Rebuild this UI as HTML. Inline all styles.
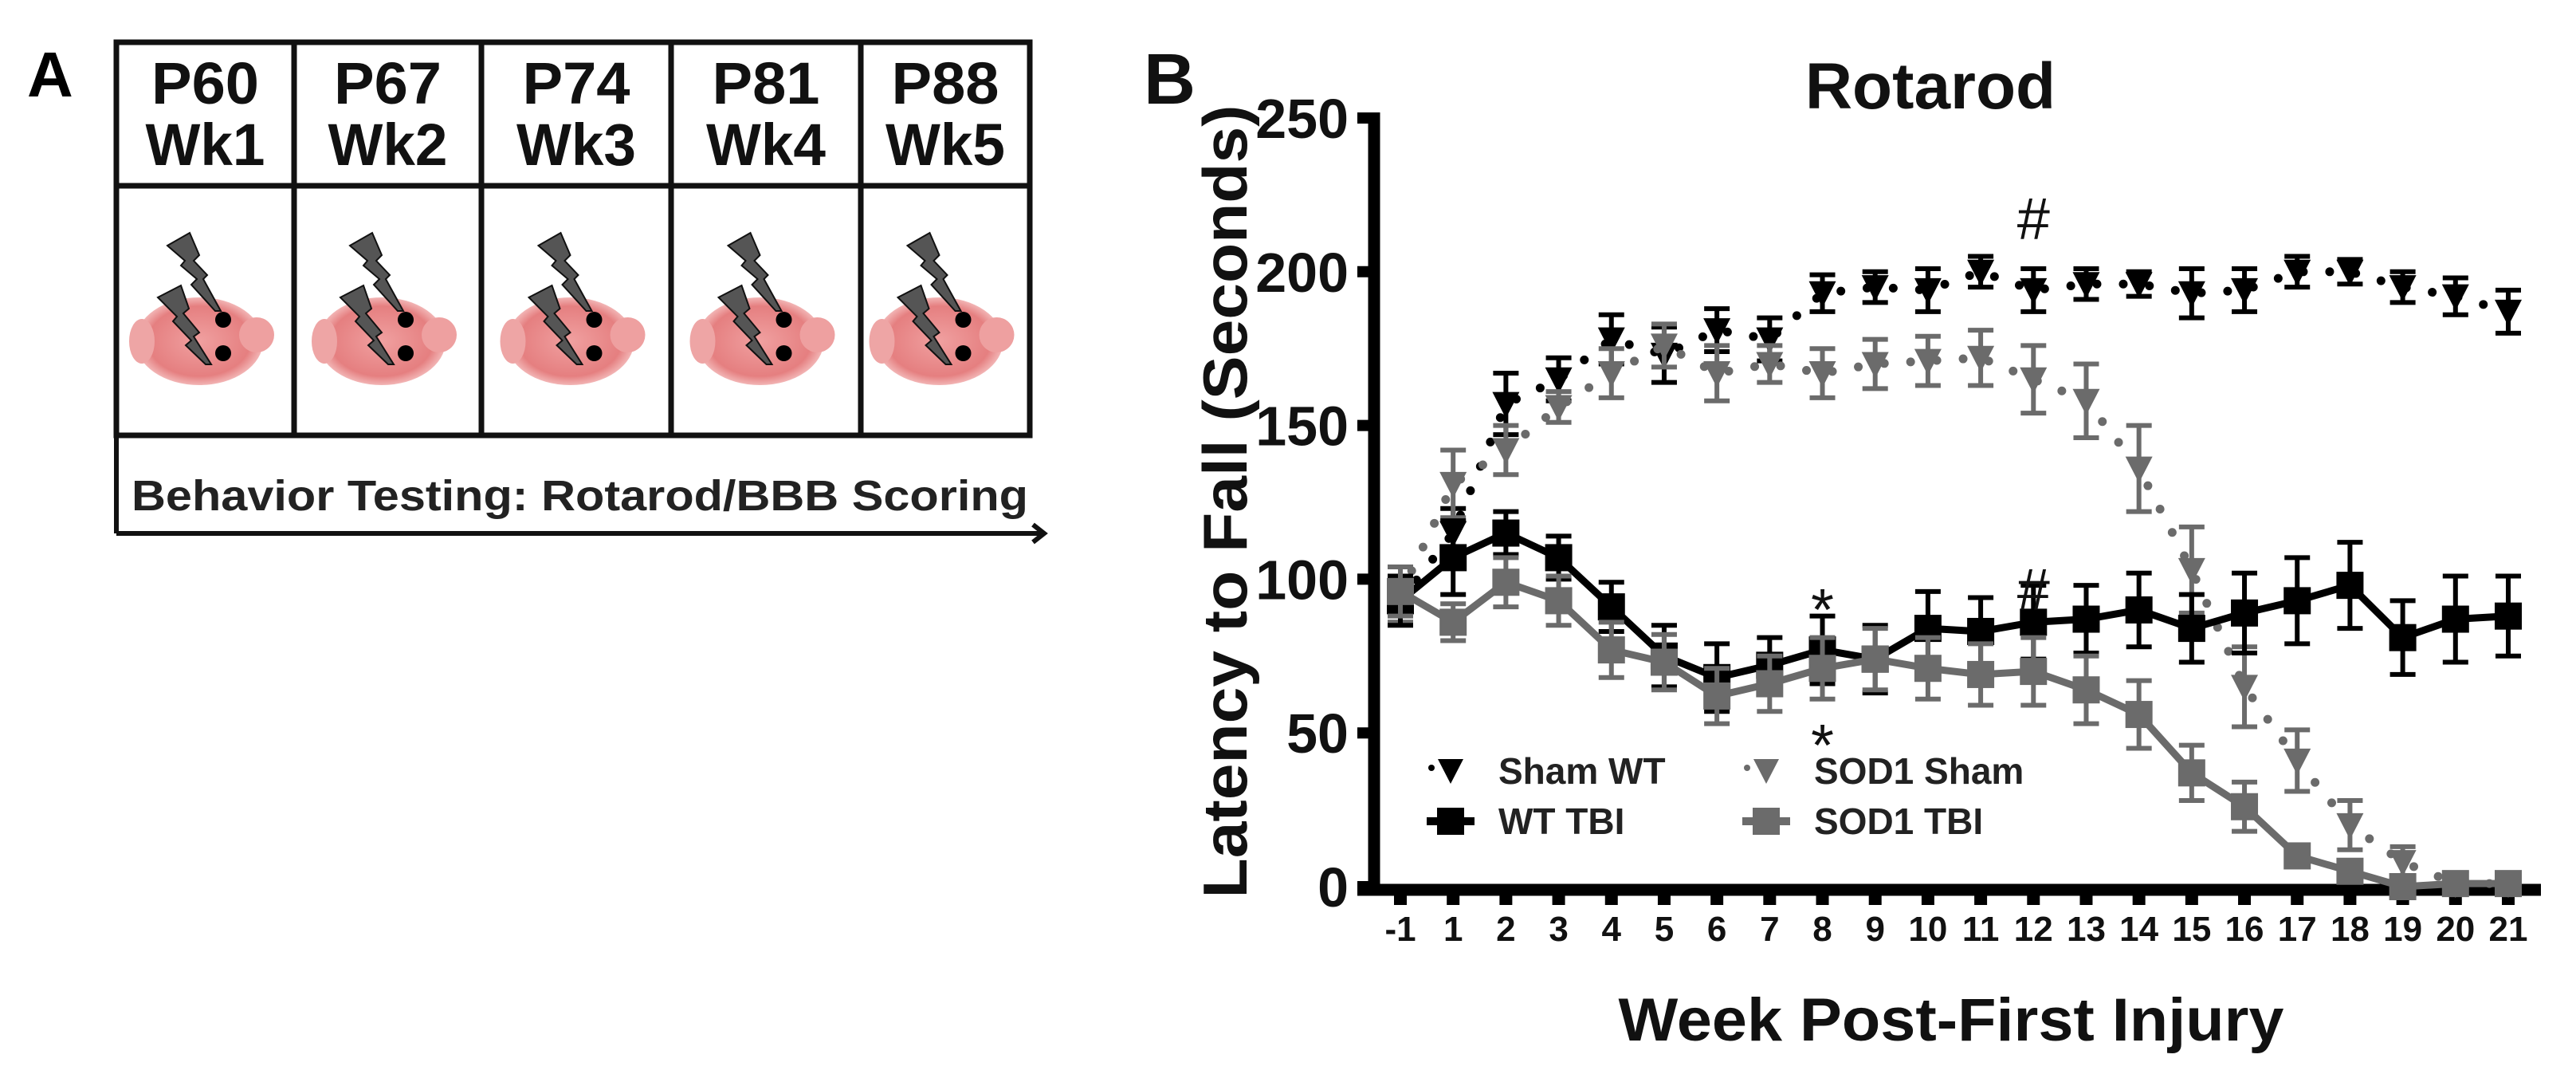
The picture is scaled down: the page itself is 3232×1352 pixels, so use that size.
<!DOCTYPE html>
<html><head><meta charset="utf-8"><style>
html,body{margin:0;padding:0;background:#fff;}
svg{display:block;font-family:"Liberation Sans",Arial,sans-serif;font-weight:bold;}
</style></head><body>
<svg id="fig" width="3232" height="1352" viewBox="0 0 3232 1352" xmlns="http://www.w3.org/2000/svg">
<defs>
<radialGradient id="brainGrad" cx="0.5" cy="0.5" r="0.5">
<stop offset="0" stop-color="#f0a0a0"/><stop offset="0.8" stop-color="#e57f80"/><stop offset="1" stop-color="#f2b5b5"/>
</radialGradient>
</defs>
<g id="panelA">
<text x="34" y="121" font-size="80">A</text>
<rect x="146" y="53" width="1146" height="493" fill="none" stroke="#111" stroke-width="7"/>
<line x1="146" y1="233" x2="1292" y2="233" stroke="#111" stroke-width="7"/>
<line x1="146" y1="546" x2="146" y2="669" stroke="#111" stroke-width="6"/>
<line x1="146" y1="669" x2="1306" y2="669" stroke="#111" stroke-width="6"/>
<polyline points="1296,658 1310,669 1296,680" fill="none" stroke="#111" stroke-width="6"/>
<text x="165" y="640" font-size="54" textLength="1125" lengthAdjust="spacingAndGlyphs" fill="#222">Behavior Testing: Rotarod/BBB Scoring</text>
</g>
<g id="chart"></g>
</svg>
<script>
const weeks = ["-1","1","2","3","4","5","6","7","8","9","10","11","12","13","14","15","16","17","18","19","20","21"];
const shamWT = [93,115,157,165,178,173,181,178,193,195,194,200,194,196,196,193,194,200,200,195,192,187];
const shamWTErr = [7,8,10,7,8,9,7,7,6,5,7,5,7,5,4,8,7,5,4,5,6,7];
const sod1Sham = [95,131,142,156,167,176,167,170,167,170,171,172,165,158,136,103,65,41,20,8,1,1];
const sod1ShamErr = [9,11,8,5,8,7,9,6,8,8,8,9,11,12,14,14,13,10,8,5,1,1];
const wtTBI = [93,107,115,107,91,75,68,72,77,74,84,83,86,87,90,84,89,93,98,81,87,88];
const wtTBIErr = [8,12,7,7,8,10,11,9,11,11,12,11,12,11,12,11,13,14,14,12,14,13];
const sod1TBI = [96,86,99,93,77,73,62,66,71,74,71,69,70,64,56,37,26,10,5,0,1,1];
const sod1TBIErr = [8,6,8,8,9,9,9,9,10,10,10,10,11,11,11,9,8,3,3,1,1,1];
const yTicks = [0,50,100,150,200,250];
const boxWeeks = ["P60","P67","P74","P81","P88"];
const boxLabels = ["Wk1","Wk2","Wk3","Wk4","Wk5"];

const NS="http://www.w3.org/2000/svg";
function mk(tag, attrs, parent){const e=document.createElementNS(NS,tag);for(const k in attrs)e.setAttribute(k,attrs[k]);parent.appendChild(e);return e;}
const panelA=document.getElementById('panelA');
const chart=document.getElementById('chart');

const cellLefts=[146,369,604,842,1080], cellRight=1292;
for(let i=0;i<5;i++){
  const l=cellLefts[i], r=i<4?cellLefts[i+1]:cellRight, cx=(l+r)/2;
  if(i>0){const d=mk('line',{x1:l,y1:53,x2:l,y2:546,stroke:'#111','stroke-width':7},panelA);
    
    }
  const t1=mk('text',{x:cx,y:130,'font-size':74,'text-anchor':'middle',fill:'#111',textLength:135,lengthAdjust:'spacingAndGlyphs'},panelA);t1.textContent=boxWeeks[i];
  
  
  const t2=mk('text',{x:cx,y:207,'font-size':74,'text-anchor':'middle',fill:'#111',textLength:150,lengthAdjust:'spacingAndGlyphs'},panelA);t2.textContent=boxLabels[i];
  
  
  const g=mk('g',{transform:'translate('+(cx-257.5)+',0)'},panelA);
  
  
  mk('ellipse',{cx:250,cy:428,rx:80,ry:55,fill:'url(#brainGrad)'},g);
  mk('ellipse',{cx:322,cy:420,rx:22,ry:22,fill:'#eea0a0'},g);
  mk('ellipse',{cx:178,cy:428,rx:16,ry:28,fill:'#eea5a5'},g);
  mk('polygon',{points:'210,308 238,292 250,320 243,327 260,345 255,350 277,390 270,390 240,357 247,350 227,333 232,327',fill:'#555',stroke:'#111','stroke-width':2},g);
  mk('polygon',{points:'198,373 227,358 237,387 230,393 250,417 243,422 265,457 258,457 233,433 240,427 217,403 222,397',fill:'#555',stroke:'#111','stroke-width':2},g);
  mk('circle',{cx:280,cy:401,r:10,fill:'#000'},g);
  mk('circle',{cx:280,cy:443,r:10,fill:'#000'},g);
}

const X0=1757, DX=66.19, Y0=1112, Y250=148;
function xs(i){return X0+i*DX;}
function ys(v){return Y0-(v/250)*(Y0-Y250);}
const GRAY='#6b6b6b';

let t=mk('text',{x:1435,y:130,'font-size':90,fill:'#111'},chart);t.textContent='B';


t=mk('text',{x:2422,y:136,'font-size':82,'text-anchor':'middle',fill:'#111'},chart);t.textContent='Rotarod';


t=mk('text',{x:0,y:0,'font-size':78,'text-anchor':'middle',fill:'#111',transform:'translate(1564,629) rotate(-90)',textLength:995,lengthAdjust:'spacingAndGlyphs'},chart);t.textContent='Latency to Fall (Seconds)';


t=mk('text',{x:2448,y:1305,'font-size':76,'text-anchor':'middle',fill:'#111',textLength:835,lengthAdjust:'spacingAndGlyphs'},chart);t.textContent='Week Post-First Injury';



let a=mk('line',{x1:1724,y1:141,x2:1724,y2:1123,stroke:'#000','stroke-width':15},chart);


a=mk('line',{x1:1703,y1:1116,x2:3188,y2:1116,stroke:'#000','stroke-width':15},chart);


yTicks.forEach(v=>{
  const tk=mk('line',{x1:1703,y1:ys(v),x2:1724,y2:ys(v),stroke:'#000','stroke-width':14},chart);
  
  
  const tl=mk('text',{x:1692,y:ys(v)+25,'font-size':70,'text-anchor':'end',fill:'#111'},chart);tl.textContent=v;
  
  
});
weeks.forEach((w,i)=>{
  const tk=mk('line',{x1:xs(i),y1:1116,x2:xs(i),y2:1135,stroke:'#000','stroke-width':16},chart);
  
  
  const tl=mk('text',{x:xs(i),y:1180,'font-size':44,'text-anchor':'middle',fill:'#111'},chart);tl.textContent=w;
  
  
});

function series(vals, errs, color, dotted, marker, name){
  const g=mk('g',{},chart);
  
  
  const pts=vals.map((v,i)=>xs(i)+','+ys(v)).join(' ');
  const ln=mk('polyline',{points:pts,fill:'none',stroke:color,'stroke-width':dotted?11:9,'stroke-linecap':'round','stroke-linejoin':'round','stroke-dasharray':dotted?'0 33':'none'},g);
  
  
  vals.forEach((v,i)=>{
    const x=xs(i), y=ys(v), e=errs[i];
    const eb=mk('path',{d:'M'+x+','+ys(v+e)+'V'+ys(v-e)+'M'+(x-16)+','+ys(v+e)+'H'+(x+16)+'M'+(x-16)+','+ys(v-e)+'H'+(x+16),stroke:color,'stroke-width':6,fill:'none'},g);
    
    
    let m;
    if(marker==='tri') m=mk('polygon',{points:(x-17)+','+(y-15)+' '+(x+17)+','+(y-15)+' '+x+','+(y+18),fill:color},g);
    else m=mk('rect',{x:x-17,y:y-17,width:34,height:34,fill:color},g);
    
    
  });
}
series(shamWT, shamWTErr, '#000', true, 'tri', 'sham-wt');
series(sod1Sham, sod1ShamErr, GRAY, true, 'tri', 'sod1-sham');
series(wtTBI, wtTBIErr, '#000', false, 'sq', 'wt-tbi');
series(sod1TBI, sod1TBIErr, GRAY, false, 'sq', 'sod1-tbi');

[['*',8,790],['*',8,960],['#',12,300],['#',12,765]].forEach(an=>{
  const s=mk('text',{x:xs(an[1]),y:an[2],'font-size':74,'text-anchor':'middle',fill:'#111','font-weight':'normal'},chart);s.textContent=an[0];
  
  
});

const legend=[['Sham WT','#000','tri',true,1820,967],['SOD1 Sham',GRAY,'tri',true,2216,967],['WT TBI','#000','sq',false,1820,1030],['SOD1 TBI',GRAY,'sq',false,2216,1030]];
legend.forEach(L=>{
  const g=mk('g',{},chart);
  
  
  const x=L[4], y=L[5];
  if(L[3]) mk('circle',{cx:x-24,cy:y-4,r:4,fill:L[1]},g);
  else mk('line',{x1:x-30,y1:y,x2:x+30,y2:y,stroke:L[1],'stroke-width':10},g);
  if(L[2]==='tri') mk('polygon',{points:(x-16)+','+(y-15)+' '+(x+16)+','+(y-15)+' '+x+','+(y+16),fill:L[1]},g);
  else mk('rect',{x:x-17,y:y-17,width:34,height:34,fill:L[1]},g);
  const tx=mk('text',{x:x+60,y:y+16,'font-size':46,fill:'#222'},g);tx.textContent=L[0];
});
</script>
</body></html>
